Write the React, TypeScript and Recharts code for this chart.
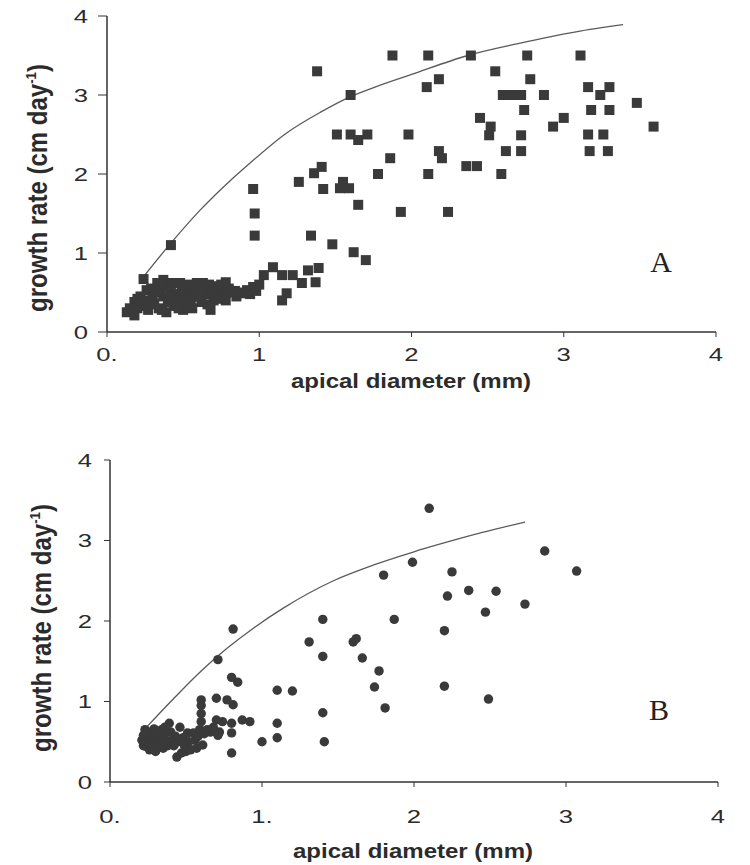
import React from 'react';
import { ComposedChart, Scatter, Line, XAxis, YAxis, ZAxis } from 'recharts';

// panel A: apical diameter (mm) vs growth rate, square markers
const topPoints = [
  { x: 0.13, y: 0.25 }, { x: 0.18, y: 0.21 }, { x: 0.18, y: 0.38 }, { x: 0.2, y: 0.3 }, { x: 0.22, y: 0.45 },
  { x: 0.24, y: 0.67 }, { x: 0.26, y: 0.53 }, { x: 0.28, y: 0.35 }, { x: 0.3, y: 0.42 }, { x: 0.32, y: 0.5 },
  { x: 0.34, y: 0.3 }, { x: 0.37, y: 0.66 }, { x: 0.37, y: 0.45 }, { x: 0.39, y: 0.25 }, { x: 0.4, y: 0.38 },
  { x: 0.42, y: 0.55 }, { x: 0.44, y: 0.33 }, { x: 0.46, y: 0.48 }, { x: 0.48, y: 0.62 }, { x: 0.5, y: 0.28 },
  { x: 0.5, y: 0.4 }, { x: 0.52, y: 0.52 }, { x: 0.55, y: 0.35 }, { x: 0.57, y: 0.45 }, { x: 0.6, y: 0.55 },
  { x: 0.62, y: 0.38 }, { x: 0.63, y: 0.62 }, { x: 0.65, y: 0.48 }, { x: 0.68, y: 0.28 }, { x: 0.7, y: 0.4 },
  { x: 0.72, y: 0.5 }, { x: 0.74, y: 0.53 }, { x: 0.76, y: 0.45 }, { x: 0.78, y: 0.63 }, { x: 0.78, y: 0.4 },
  { x: 0.82, y: 0.5 }, { x: 0.85, y: 0.45 }, { x: 0.88, y: 0.49 }, { x: 0.92, y: 0.53 }, { x: 0.96, y: 0.57 },
  { x: 0.15, y: 0.3 }, { x: 0.2, y: 0.42 }, { x: 0.22, y: 0.33 }, { x: 0.25, y: 0.4 }, { x: 0.27, y: 0.28 },
  { x: 0.29, y: 0.55 }, { x: 0.31, y: 0.36 }, { x: 0.33, y: 0.62 }, { x: 0.35, y: 0.52 }, { x: 0.36, y: 0.28 },
  { x: 0.38, y: 0.58 }, { x: 0.41, y: 0.45 }, { x: 0.43, y: 0.62 }, { x: 0.45, y: 0.4 }, { x: 0.47, y: 0.3 },
  { x: 0.49, y: 0.55 }, { x: 0.53, y: 0.45 }, { x: 0.54, y: 0.6 }, { x: 0.56, y: 0.3 }, { x: 0.58, y: 0.52 },
  { x: 0.59, y: 0.62 }, { x: 0.61, y: 0.45 }, { x: 0.64, y: 0.55 }, { x: 0.66, y: 0.35 }, { x: 0.67, y: 0.6 },
  { x: 0.69, y: 0.48 }, { x: 0.71, y: 0.58 }, { x: 0.73, y: 0.42 }, { x: 0.75, y: 0.6 }, { x: 0.8, y: 0.55 },
  { x: 0.84, y: 0.52 }, { x: 0.9, y: 0.5 }, { x: 0.94, y: 0.48 }, { x: 0.98, y: 0.52 },
  { x: 1.0, y: 0.6 }, { x: 1.03, y: 0.72 }, { x: 1.09, y: 0.82 }, { x: 1.15, y: 0.72 }, { x: 1.22, y: 0.72 },
  { x: 1.28, y: 0.62 }, { x: 1.32, y: 0.78 }, { x: 1.39, y: 0.81 }, { x: 1.37, y: 0.63 }, { x: 1.18, y: 0.49 },
  { x: 1.15, y: 0.4 },
  { x: 0.42, y: 1.1 }, { x: 0.96, y: 1.81 }, { x: 0.97, y: 1.5 }, { x: 0.97, y: 1.22 }, { x: 1.34, y: 1.22 },
  { x: 1.48, y: 1.11 }, { x: 1.62, y: 1.01 }, { x: 1.7, y: 0.91 }, { x: 1.26, y: 1.9 }, { x: 1.36, y: 2.01 },
  { x: 1.41, y: 2.09 }, { x: 1.42, y: 1.81 }, { x: 1.53, y: 1.82 }, { x: 1.59, y: 1.82 }, { x: 1.55, y: 1.9 },
  { x: 1.65, y: 1.61 }, { x: 1.38, y: 3.3 }, { x: 1.6, y: 3.0 }, { x: 1.51, y: 2.5 }, { x: 1.6, y: 2.5 },
  { x: 1.65, y: 2.43 }, { x: 1.71, y: 2.5 }, { x: 1.78, y: 2.0 },
  { x: 1.875, y: 3.5 }, { x: 2.11, y: 3.5 }, { x: 2.39, y: 3.5 }, { x: 2.76, y: 3.5 }, { x: 3.11, y: 3.5 },
  { x: 2.1, y: 3.1 }, { x: 2.18, y: 3.2 }, { x: 2.55, y: 3.3 }, { x: 2.78, y: 3.2 }, { x: 2.6, y: 3.0 },
  { x: 2.66, y: 3.0 }, { x: 2.72, y: 3.0 }, { x: 2.87, y: 3.0 }, { x: 2.74, y: 2.81 }, { x: 3.16, y: 3.1 },
  { x: 3.3, y: 3.1 }, { x: 3.24, y: 3.0 }, { x: 3.18, y: 2.81 }, { x: 3.3, y: 2.81 }, { x: 3.48, y: 2.9 },
  { x: 3.59, y: 2.6 }, { x: 2.45, y: 2.71 }, { x: 2.52, y: 2.6 }, { x: 2.51, y: 2.49 }, { x: 2.72, y: 2.49 },
  { x: 2.93, y: 2.6 }, { x: 3.0, y: 2.71 }, { x: 3.16, y: 2.5 }, { x: 3.26, y: 2.5 }, { x: 3.17, y: 2.29 },
  { x: 3.29, y: 2.29 }, { x: 1.98, y: 2.5 }, { x: 2.18, y: 2.29 }, { x: 2.2, y: 2.2 }, { x: 1.86, y: 2.2 },
  { x: 2.62, y: 2.29 }, { x: 2.72, y: 2.29 }, { x: 2.11, y: 2.0 }, { x: 2.36, y: 2.1 }, { x: 2.43, y: 2.1 },
  { x: 2.59, y: 2.0 }, { x: 1.93, y: 1.52 }, { x: 2.24, y: 1.52 },
];

const topCurve = [
  { x: 0.24, y: 0.7 }, { x: 0.4, y: 1.08 }, { x: 0.61, y: 1.54 }, { x: 0.8, y: 1.9 }, { x: 0.94, y: 2.14 },
  { x: 1.18, y: 2.52 }, { x: 1.4, y: 2.78 }, { x: 1.6, y: 2.98 }, { x: 1.76, y: 3.1 }, { x: 2.0, y: 3.26 },
  { x: 2.37, y: 3.5 }, { x: 2.7, y: 3.65 }, { x: 3.08, y: 3.8 }, { x: 3.39, y: 3.89 },
];

// panel B: round markers
const bottomPoints = [
  { x: 0.21, y: 0.52 }, { x: 0.22, y: 0.45 }, { x: 0.23, y: 0.65 }, { x: 0.24, y: 0.44 }, { x: 0.25, y: 0.55 },
  { x: 0.26, y: 0.4 }, { x: 0.27, y: 0.5 }, { x: 0.28, y: 0.6 }, { x: 0.29, y: 0.46 }, { x: 0.3, y: 0.38 },
  { x: 0.31, y: 0.48 }, { x: 0.33, y: 0.55 }, { x: 0.34, y: 0.65 }, { x: 0.35, y: 0.42 }, { x: 0.37, y: 0.52 },
  { x: 0.39, y: 0.73 }, { x: 0.4, y: 0.62 }, { x: 0.42, y: 0.45 }, { x: 0.44, y: 0.31 }, { x: 0.46, y: 0.68 },
  { x: 0.47, y: 0.36 }, { x: 0.48, y: 0.55 }, { x: 0.5, y: 0.38 }, { x: 0.51, y: 0.61 }, { x: 0.53, y: 0.4 },
  { x: 0.55, y: 0.61 }, { x: 0.57, y: 0.42 }, { x: 0.59, y: 0.65 }, { x: 0.61, y: 0.46 }, { x: 0.6, y: 0.75 },
  { x: 0.22, y: 0.58 }, { x: 0.24, y: 0.5 }, { x: 0.25, y: 0.62 }, { x: 0.26, y: 0.47 }, { x: 0.27, y: 0.42 },
  { x: 0.28, y: 0.53 }, { x: 0.29, y: 0.66 }, { x: 0.3, y: 0.55 }, { x: 0.32, y: 0.44 }, { x: 0.32, y: 0.6 },
  { x: 0.34, y: 0.5 }, { x: 0.36, y: 0.6 }, { x: 0.36, y: 0.68 }, { x: 0.38, y: 0.45 }, { x: 0.41, y: 0.52 },
  { x: 0.43, y: 0.57 }, { x: 0.45, y: 0.5 }, { x: 0.49, y: 0.45 }, { x: 0.52, y: 0.5 }, { x: 0.56, y: 0.52 },
  { x: 0.58, y: 0.57 }, { x: 0.62, y: 0.6 }, { x: 0.66, y: 0.62 }, { x: 0.72, y: 0.62 }, { x: 0.74, y: 0.75 },
  { x: 0.6, y: 0.85 }, { x: 0.6, y: 0.95 }, { x: 0.6, y: 1.02 }, { x: 0.64, y: 0.65 }, { x: 0.68, y: 0.68 },
  { x: 0.7, y: 0.77 }, { x: 0.7, y: 1.04 }, { x: 0.77, y: 1.02 }, { x: 0.81, y: 0.96 }, { x: 0.71, y: 0.58 },
  { x: 0.8, y: 0.73 }, { x: 0.8, y: 0.61 }, { x: 0.87, y: 0.77 }, { x: 0.92, y: 0.75 }, { x: 0.8, y: 0.36 },
  { x: 0.71, y: 1.52 }, { x: 0.81, y: 1.9 }, { x: 0.8, y: 1.3 }, { x: 0.84, y: 1.24 }, { x: 1.0, y: 0.5 },
  { x: 1.1, y: 0.55 }, { x: 1.1, y: 0.73 }, { x: 1.1, y: 1.14 }, { x: 1.2, y: 1.13 }, { x: 1.31, y: 1.74 },
  { x: 1.4, y: 2.02 }, { x: 1.4, y: 1.56 }, { x: 1.4, y: 0.86 }, { x: 1.41, y: 0.5 }, { x: 1.6, y: 1.74 },
  { x: 1.62, y: 1.78 }, { x: 1.66, y: 1.54 }, { x: 1.74, y: 1.18 }, { x: 1.77, y: 1.38 }, { x: 1.81, y: 0.92 },
  { x: 1.8, y: 2.57 }, { x: 1.87, y: 2.02 }, { x: 1.99, y: 2.73 }, { x: 2.1, y: 3.4 }, { x: 2.2, y: 1.88 },
  { x: 2.2, y: 1.19 }, { x: 2.22, y: 2.31 }, { x: 2.25, y: 2.61 }, { x: 2.36, y: 2.38 }, { x: 2.47, y: 2.11 },
  { x: 2.49, y: 1.03 }, { x: 2.54, y: 2.37 }, { x: 2.73, y: 2.21 }, { x: 2.86, y: 2.87 }, { x: 3.07, y: 2.62 },
];

const bottomCurve = [
  { x: 0.24, y: 0.68 }, { x: 0.4, y: 1.0 }, { x: 0.6, y: 1.38 }, { x: 0.77, y: 1.66 }, { x: 0.95, y: 1.92 },
  { x: 1.14, y: 2.16 }, { x: 1.47, y: 2.5 }, { x: 1.74, y: 2.7 }, { x: 2.0, y: 2.86 }, { x: 2.18, y: 2.96 },
  { x: 2.45, y: 3.1 }, { x: 2.73, y: 3.23 },
];

const axisTicks = [0, 1, 2, 3, 4];
const topXLabels = ['0.', '1', '2', '3', '4'];
const bottomXLabels = ['0.', '1.', '2', '3', '4'];
const yLabels = ['0', '1', '2', '3', '4'];

const sans = '"Liberation Sans", Arial, sans-serif';
const ink = '#2b2b2b';

const makeXTick = (labels: string[]) => (props: any) => {
  const { x, y, payload } = props;
  const i = axisTicks.indexOf(payload.value);
  return (
    <text transform={`translate(${x},${y}) scale(1.35,1)`} textAnchor="middle" dy="0.71em"
      fontSize={19} fill={ink} fontFamily={sans}>
      {labels[i]}
    </text>
  );
};

const YTick = (props: any) => {
  const { x, y, payload } = props;
  const i = axisTicks.indexOf(payload.value);
  return (
    <text transform={`translate(${x},${y}) scale(1.35,1)`} textAnchor="end" dy="0.35em"
      fontSize={19} fill={ink} fontFamily={sans}>
      {yLabels[i]}
    </text>
  );
};

const xTitleStyle: React.CSSProperties = {
  position: 'absolute', whiteSpace: 'nowrap', fontFamily: sans, fontWeight: 'bold', fontSize: 20,
  color: ink, transform: 'translate(-50%,-50%) scaleX(1.2)', lineHeight: 1,
};
const yTitleStyle: React.CSSProperties = {
  position: 'absolute', whiteSpace: 'nowrap', fontFamily: sans, fontWeight: 'bold', fontSize: 20,
  color: ink, transform: 'translate(-50%,-50%) rotate(-90deg) scale(1.2,1.4)', lineHeight: 1,
};
const panelStyle: React.CSSProperties = {
  position: 'absolute', fontFamily: '"Liberation Serif", "Times New Roman", serif', fontSize: 30,
  color: '#222', transform: 'translate(-50%,-50%)', lineHeight: 1,
};

const YTitle = ({ x, y }: { x: number; y: number }) => (
  <div style={{ ...yTitleStyle, left: x, top: y }}>
    growth rate (cm day<sup style={{ fontSize: 11, verticalAlign: 8 }}>-1</sup>)
  </div>
);

export default function App() {
  return (
    <div style={{ position: 'absolute', left: 0, top: 0, width: 750, height: 865, background: '#fff', overflow: 'hidden' }}>
      <div style={{ position: 'absolute', left: 0, top: 0 }}>
        <ComposedChart width={750} height={420} margin={{ top: 16, right: 34, bottom: 58, left: 0 }}>
          <XAxis type="number" dataKey="x" domain={[0, 4]} ticks={axisTicks} allowDataOverflow
            height={30} tickSize={5} tickMargin={11} tick={makeXTick(topXLabels)}
            axisLine={{ stroke: '#333', strokeWidth: 1.5 }} tickLine={{ stroke: '#333' }} />
          <YAxis type="number" dataKey="y" domain={[0, 4]} ticks={axisTicks} allowDataOverflow
            width={107} tickSize={9} tickMargin={10} tick={YTick}
            axisLine={{ stroke: '#333', strokeWidth: 1.5 }} tickLine={{ stroke: '#333' }} />
          <ZAxis range={[100, 100]} />
          <Line data={topCurve} dataKey="y" type="monotone" stroke="#5a5a5a" strokeWidth={1.3}
            dot={false} activeDot={false} isAnimationActive={false} />
          <Scatter data={topPoints} shape="square" fill="#3a3a3a" isAnimationActive={false} />
        </ComposedChart>
      </div>
      <div style={{ position: 'absolute', left: 0, top: 430 }}>
        <ComposedChart width={750} height={420} margin={{ top: 30, right: 32, bottom: 38, left: 0 }}>
          <XAxis type="number" dataKey="x" domain={[0, 4]} ticks={axisTicks} allowDataOverflow
            height={30} tickSize={5} tickMargin={23} tick={makeXTick(bottomXLabels)}
            axisLine={{ stroke: '#333', strokeWidth: 1.5 }} tickLine={{ stroke: '#333' }} />
          <YAxis type="number" dataKey="y" domain={[0, 4]} ticks={axisTicks} allowDataOverflow
            width={110} tickSize={6} tickMargin={12} tick={YTick}
            axisLine={{ stroke: '#333', strokeWidth: 1.5 }} tickLine={{ stroke: '#333' }} />
          <ZAxis range={[70, 70]} />
          <Line data={bottomCurve} dataKey="y" type="monotone" stroke="#5a5a5a" strokeWidth={1.3}
            dot={false} activeDot={false} isAnimationActive={false} />
          <Scatter data={bottomPoints} shape="circle" fill="#3a3a3a" isAnimationActive={false} />
        </ComposedChart>
      </div>
      <div style={{ ...xTitleStyle, left: 411, top: 381 }}>apical diameter (mm)</div>
      <div style={{ ...xTitleStyle, left: 413, top: 851 }}>apical diameter (mm)</div>
      <YTitle x={37} y={188} />
      <YTitle x={41} y={628} />
      <div style={{ ...panelStyle, left: 661, top: 262 }}>A</div>
      <div style={{ ...panelStyle, left: 659, top: 710 }}>B</div>
    </div>
  );
}
